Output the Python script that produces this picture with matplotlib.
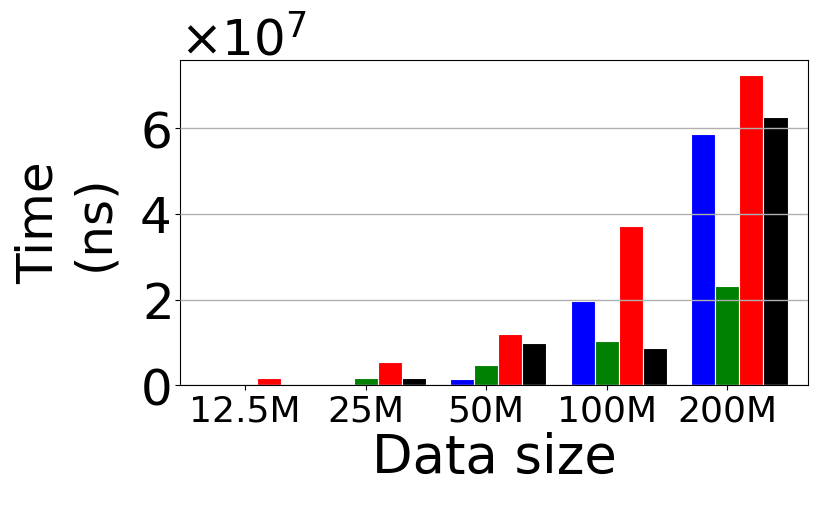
import numpy as np
from matplotlib import pyplot as plt

sizes = ['12.5M', '25M', '50M', '100M', '200M']
blue_t = [0.0, 0.03e7, 0.13e7, 1.97e7, 5.88e7]
green_t = [0.0, 0.17e7, 0.47e7, 1.04e7, 2.32e7]
red_t = [0.17e7, 0.54e7, 1.20e7, 3.73e7, 7.24e7]
black_t = [0.0, 0.16e7, 0.98e7, 0.87e7, 6.28e7]

x = np.arange(len(sizes))
w = 0.2

fig = plt.figure(figsize=(8.3, 5.09), dpi=100)
ax = fig.add_axes([0.2169, 0.2436, 0.7566, 0.6385])

for i, (vals, c) in enumerate(zip([blue_t, green_t, red_t, black_t],
                                  ['blue', 'green', 'red', 'black'])):
    ax.bar(x + (i - 1) * w, vals, w, color=c, edgecolor='white', linewidth=0.8)

ax.set_axisbelow(False)
ax.yaxis.grid(True, color='#b0b0b0', linewidth=1)
ax.set_xlim(-0.54, 4.67)
ax.set_xticks(x)
ax.set_xticklabels(sizes, fontsize=26)
ax.set_yticks([0, 2e7, 4e7, 6e7])
ax.tick_params(axis='y', labelsize=36)
ax.ticklabel_format(axis='y', style='sci', scilimits=(0, 0), useMathText=True)
ax.yaxis.get_offset_text().set_fontsize(36)
ax.set_xlabel('Data size', fontsize=38, labelpad=2)
ax.set_ylabel('Time\n(ns)', fontsize=36, linespacing=1.2, labelpad=15)

plt.savefig('out.png')
